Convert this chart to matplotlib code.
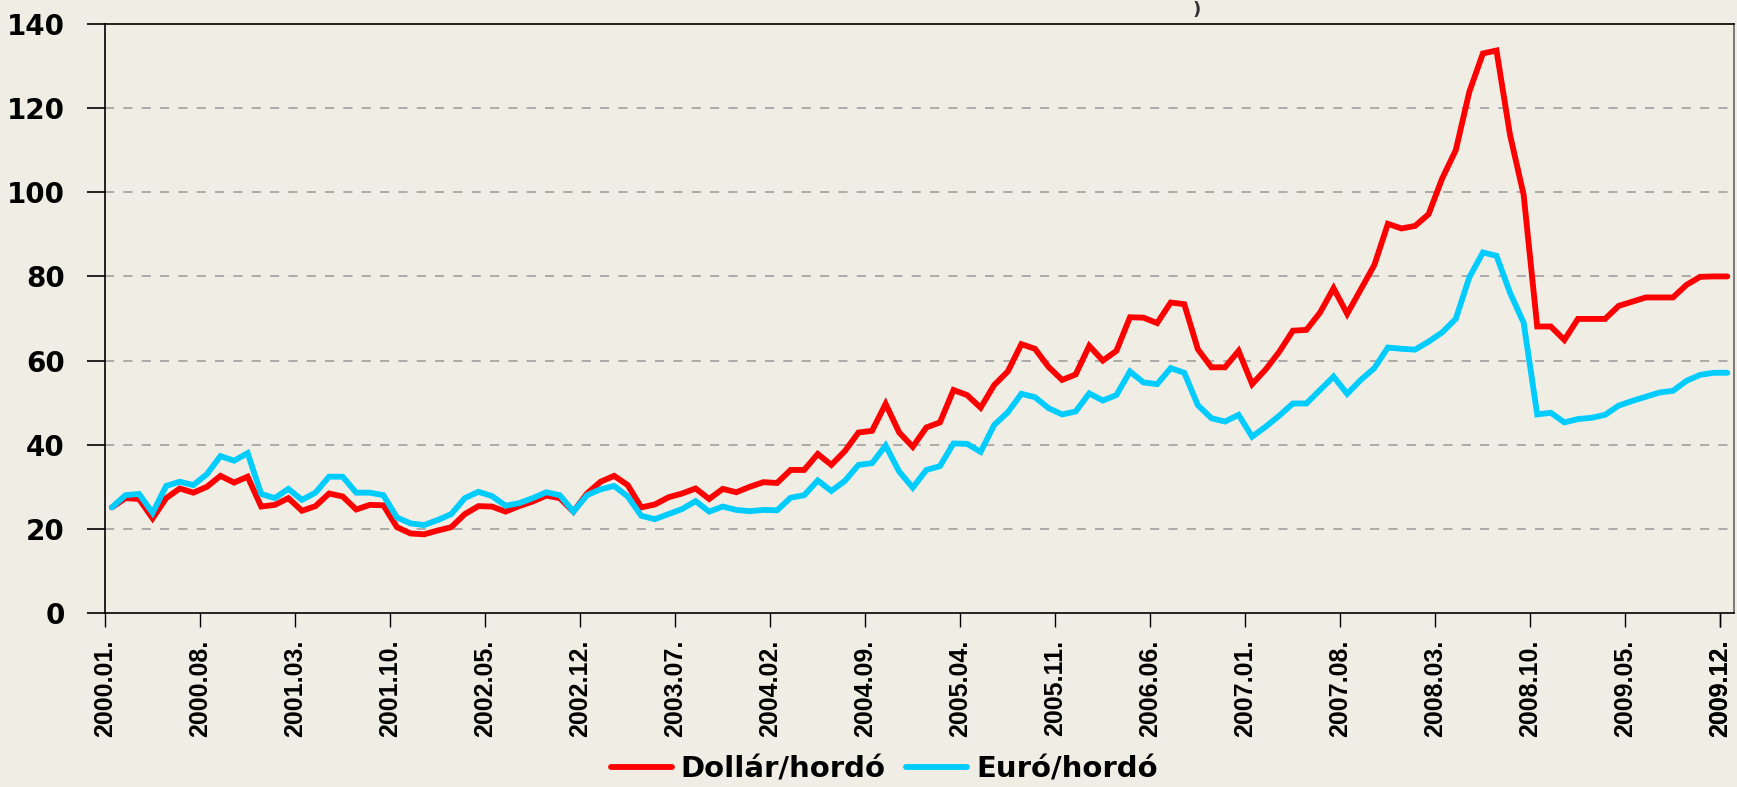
"""Brent olajár havi átlag, dollár és euró per hordó, 2000.01–2009.12."""

import matplotlib
matplotlib.use("Agg")
import matplotlib.pyplot as plt
import numpy as np

months = [f"{y}.{m:02d}." for y in range(2000, 2010) for m in range(1, 13)]

dollar = [
    25.1, 27.3, 27.1, 22.5, 27.3, 29.6, 28.6, 30.0, 32.6, 31.0, 32.4, 25.3,
    25.7, 27.3, 24.3, 25.4, 28.4, 27.7, 24.6, 25.7, 25.6, 20.4, 18.9, 18.7,
    19.6, 20.4, 23.5, 25.4, 25.3, 24.1, 25.4, 26.5, 27.9, 27.3, 24.1, 28.4,
    31.2, 32.6, 30.4, 25.1, 25.8, 27.5, 28.4, 29.6, 27.1, 29.5, 28.7, 30.0,
    31.1, 30.9, 34.0, 34.0, 37.8, 35.2, 38.5, 42.9, 43.3, 49.7, 42.9, 39.5,
    44.1, 45.3, 53.0, 51.8, 48.8, 54.2, 57.4, 63.9, 62.8, 58.5, 55.4, 56.7,
    63.5, 60.0, 62.3, 70.3, 70.2, 68.9, 73.8, 73.4, 62.7, 58.4, 58.4, 62.3,
    54.4, 57.9, 62.1, 67.1, 67.3, 71.4, 77.2, 71.1, 76.9, 82.7, 92.5, 91.4,
    92.0, 94.8, 103.3, 110.0, 123.9, 133.0, 133.7, 113.6, 99.4, 68.1, 68.1, 64.9,
    69.9, 69.9, 69.9, 73.0, 74.0, 75.0, 75.0, 75.0, 78.0, 79.9, 80.0, 80.0,
]

euro = [
    25.1, 28.0, 28.3, 23.8, 30.2, 31.2, 30.4, 33.0, 37.3, 36.2, 38.0, 28.3,
    27.3, 29.5, 26.9, 28.6, 32.4, 32.4, 28.6, 28.6, 28.0, 22.7, 21.3, 20.9,
    22.1, 23.5, 27.3, 28.8, 27.8, 25.5, 26.1, 27.3, 28.7, 28.0, 24.1, 28.0,
    29.4, 30.2, 27.7, 23.1, 22.3, 23.5, 24.7, 26.6, 24.1, 25.3, 24.5, 24.2,
    24.5, 24.4, 27.4, 28.0, 31.5, 29.0, 31.4, 35.2, 35.6, 39.8, 33.6, 29.8,
    34.0, 34.9, 40.3, 40.2, 38.3, 44.7, 47.7, 52.1, 51.3, 48.7, 47.2, 47.9,
    52.2, 50.5, 51.8, 57.4, 54.8, 54.4, 58.2, 57.1, 49.4, 46.3, 45.5, 47.1,
    41.9, 44.3, 46.9, 49.8, 49.8, 53.0, 56.2, 52.1, 55.4, 58.2, 63.1, 62.8,
    62.6, 64.5, 66.7, 69.9, 79.8, 85.7, 84.9, 76.1, 69.0, 47.2, 47.6, 45.3,
    46.1, 46.4, 47.1, 49.3, 50.4, 51.4, 52.4, 52.8, 55.2, 56.6, 57.1, 57.1,
]

series_labels = ["Dollár/hordó", "Euró/hordó"]
y_ticks = [0, 20, 40, 60, 80, 100, 120, 140]

BG = "#F0EDE5"
RED = "#FF0000"
CYAN = "#00CCFF"

fig = plt.figure(figsize=(17.37, 7.87), dpi=100, facecolor=BG)
ax = fig.add_axes([0.0605, 0.2211, 0.9378, 0.7484], facecolor=BG)

# Excel-style category axis: points sit in the middle of each month slot
x = np.arange(len(months)) + 0.5
ax.plot(x, dollar, color=RED, linewidth=4.2, solid_joinstyle="miter",
        solid_capstyle="round", label=series_labels[0], zorder=3)
ax.plot(x, euro, color=CYAN, linewidth=4.2, solid_joinstyle="miter",
        solid_capstyle="round", label=series_labels[1], zorder=4)

ax.set_xlim(0, len(months))
ax.set_ylim(0, 140)

tick_idx = list(range(0, len(months), 7)) + [len(months) - 1]
ax.set_xticks(tick_idx)
ax.set_xticklabels([months[i] for i in tick_idx], rotation=90,
                   fontfamily="Liberation Sans", fontweight="bold", fontsize=18)
ax.set_yticks(y_ticks)
ax.set_yticklabels([str(v) for v in y_ticks], fontfamily="DejaVu Sans",
                   fontweight="bold", fontsize=20)

ax.tick_params(axis="x", direction="out", length=10, width=1, pad=9, colors="black")
ax.tick_params(axis="y", direction="out", length=13, width=1.2, pad=16, colors="black")

for y in y_ticks[1:-1]:
    ax.axhline(y, color="#999999", linewidth=1.1, linestyle=(0, (6, 6)), zorder=1)

for side in ["left", "bottom", "top"]:
    ax.spines[side].set_color("black")
    ax.spines[side].set_linewidth(1.2)
ax.spines["right"].set_color("#666666")
ax.spines["right"].set_linewidth(1.2)

fig.legend(loc="center", bbox_to_anchor=(0.509, 0.022), ncol=2, frameon=False,
           prop={"family": "DejaVu Sans", "weight": "bold", "size": 21},
           handlelength=2.1, handletextpad=0.3, columnspacing=0.7)

# remains of the cropped title at the top edge
fig.text(0.689, 0.999, ")", fontsize=13, color="#333333", ha="center", va="top",
         fontweight="bold")

fig.savefig("out.png", dpi=100, facecolor=BG)
